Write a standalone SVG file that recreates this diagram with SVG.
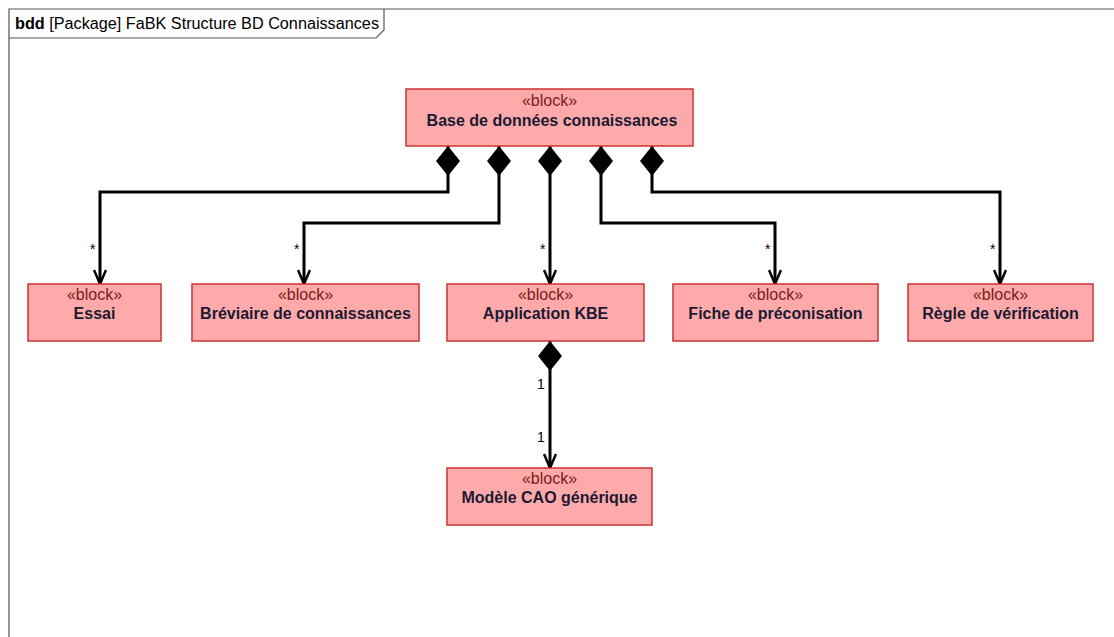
<svg xmlns="http://www.w3.org/2000/svg" width="1114" height="637" viewBox="0 0 1114 637">
<defs>
<style>
.blk{fill:#ffaaaa;stroke:#cc3333;stroke-width:1.5}
.st{font-family:"Liberation Sans",Arial,sans-serif;font-size:16px;fill:#7a2020;text-anchor:middle}
.nm{font-family:"Liberation Sans",Arial,sans-serif;font-size:16px;font-weight:bold;fill:#1a1a33;text-anchor:middle}
.ln{fill:none;stroke:#000;stroke-width:3}
.lb{font-family:"Liberation Sans",Arial,sans-serif;font-size:14px;fill:#000}
.fr{fill:none;stroke:#555;stroke-width:1.2}
</style>
<marker id="dia" viewBox="0 0 30 24" refX="0" refY="12" markerWidth="30" markerHeight="24" markerUnits="userSpaceOnUse" orient="auto">
<path d="M0,12 L15,0 L30,12 L15,24 Z" fill="#000"/>
</marker>
<marker id="arr" viewBox="0 0 16 14" refX="15" refY="7" markerWidth="16" markerHeight="14" markerUnits="userSpaceOnUse" orient="auto">
<path d="M1,1 L15,7 L1,13" fill="none" stroke="#000" stroke-width="2.5"/>
</marker>
</defs>
<rect width="1114" height="637" fill="#fff"/>
<g id="frame">
<path class="fr" d="M1114,9 L9,9 L9,637"/>
<path class="fr" d="M9,38 L376,38 L384,30 L384,9"/>
<text x="15" y="29" font-family="Liberation Sans,Arial,sans-serif" font-size="16" fill="#000" textLength="364" lengthAdjust="spacingAndGlyphs"><tspan font-weight="bold">bdd</tspan> [Package] FaBK Structure BD Connaissances</text>
</g>
<g id="connectors">
<path class="ln" d="M448,146 L448,192 L100,192 L100,284" marker-start="url(#dia)" marker-end="url(#arr)"/>
<path class="ln" d="M499,146 L499,223 L304,223 L304,284" marker-start="url(#dia)" marker-end="url(#arr)"/>
<path class="ln" d="M550,146 L550,284" marker-start="url(#dia)" marker-end="url(#arr)"/>
<path class="ln" d="M601,146 L601,223 L775,223 L775,284" marker-start="url(#dia)" marker-end="url(#arr)"/>
<path class="ln" d="M652,146 L652,192 L1000,192 L1000,284" marker-start="url(#dia)" marker-end="url(#arr)"/>
<path class="ln" d="M550,341 L550,468" marker-start="url(#dia)" marker-end="url(#arr)"/>
<text class="lb" x="90" y="254">*</text>
<text class="lb" x="294" y="254">*</text>
<text class="lb" x="540" y="254">*</text>
<text class="lb" x="765" y="254">*</text>
<text class="lb" x="990" y="254">*</text>
<text class="lb" x="537" y="389">1</text>
<text class="lb" x="537" y="442">1</text>
</g>
<g id="base">
<rect class="blk" x="406" y="89" width="287" height="57"/>
<text class="st" x="549.5" y="106">«block»</text>
<text class="nm" x="552" y="126">Base de données connaissances</text>
</g>
<g id="essai">
<rect class="blk" x="28" y="284" width="133" height="57"/>
<text class="st" x="94.5" y="300">«block»</text>
<text class="nm" x="94.5" y="319">Essai</text>
</g>
<g id="breviaire">
<rect class="blk" x="192" y="284" width="227" height="57"/>
<text class="st" x="305.5" y="300">«block»</text>
<text class="nm" x="305.5" y="319">Bréviaire de connaissances</text>
</g>
<g id="appkbe">
<rect class="blk" x="447" y="284" width="197" height="57"/>
<text class="st" x="545.5" y="300">«block»</text>
<text class="nm" x="545.5" y="319">Application KBE</text>
</g>
<g id="fiche">
<rect class="blk" x="673" y="284" width="205" height="57"/>
<text class="st" x="775.5" y="300">«block»</text>
<text class="nm" x="775.5" y="319">Fiche de préconisation</text>
</g>
<g id="regle">
<rect class="blk" x="908" y="284" width="185" height="57"/>
<text class="st" x="1000.5" y="300">«block»</text>
<text class="nm" x="1000.5" y="319">Règle de vérification</text>
</g>
<g id="modele">
<rect class="blk" x="447" y="468" width="205" height="57"/>
<text class="st" x="549.5" y="484">«block»</text>
<text class="nm" x="549.5" y="503">Modèle CAO générique</text>
</g>
</svg>
